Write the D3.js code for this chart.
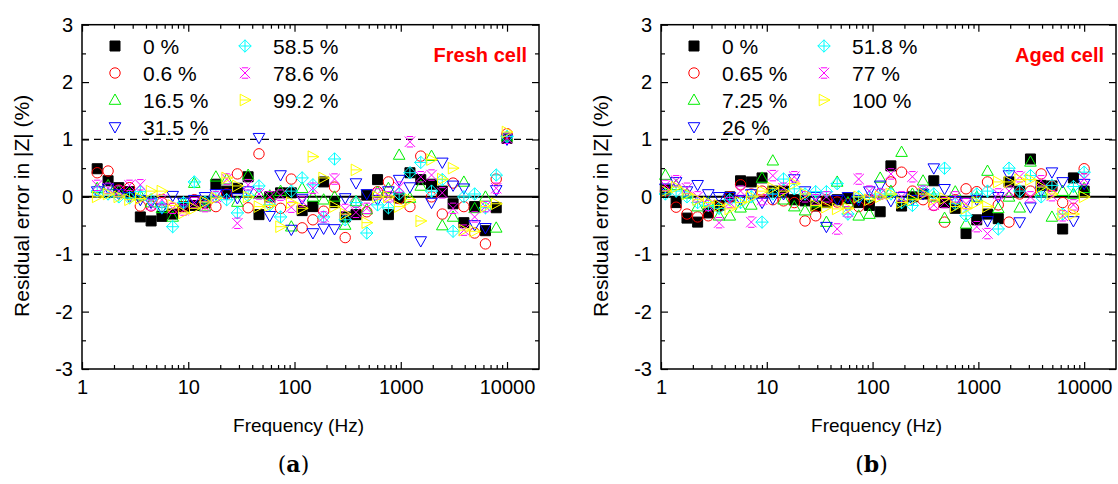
<!DOCTYPE html>
<html>
<head>
<meta charset="utf-8">
<script src="https://cdn.jsdelivr.net/npm/d3@7"></script>
<style>
  body { margin: 0; background: #fff; }
  svg { display: block; font-family: "Liberation Sans", Arial, sans-serif; }
</style>
</head>
<body>
<div id="chart"></div>
<script>
// Residual error of the |Z| fit vs frequency, fresh cell (a) and aged cell (b)

// Frequencies (Hz) of the measured points
const freqFresh = [1.39, 1.76, 2.22, 2.80, 3.54, 4.47, 5.65, 7.14, 9.02, 11.4, 14.4, 18.2, 23.0, 29.0,
  36.6, 46.3, 58.5, 73.9, 93.3, 118, 149, 188, 238, 300, 379, 479, 605, 765, 966, 1220, 1542, 1948,
  2460, 3108, 3926, 4960, 6266, 7916, 10000];
const freqAged = [1.10, 1.39, 1.76, 2.22, 2.80, 3.54, 4.47, 5.65, 7.14, 9.02, 11.4, 14.4, 18.2, 23.0,
  29.0, 36.6, 46.3, 58.5, 73.9, 93.3, 118, 149, 188, 238, 300, 379, 479, 605, 765, 966, 1220, 1542,
  1948, 2460, 3108, 3926, 4960, 6266, 7916, 10000];

// Legend labels (state of charge)
const labelsFresh = ['0 %', '0.6 %', '16.5 %', '31.5 %', '58.5 %', '78.6 %', '99.2 %'];
const labelsAged = ['0 %', '0.65 %', '7.25 %', '26 %', '51.8 %', '77 %', '100 %'];

// Fresh cell residuals (%)
const fresh0 = [0.49, 0.28, 0.16, 0.09, -0.35, -0.42, -0.34, -0.3, -0.17, -0.15, -0.1, 0.22, 0.1, 0.15,
  0.35, -0.31, 0.0, 0.07, 0.07, -0.24, -0.17, 0.26, -0.1, -0.35, -0.31, 0.03, 0.3, -0.31, -0.02, 0.42,
  0.3, 0.22, 0.1, -0.12, -0.45, -0.17, -0.59, -0.19, 1.02];
const fresh06 = [0.42, 0.45, 0.12, 0.16, -0.16, -0.16, -0.1, -0.2, -0.17, -0.05, -0.12, -0.17, 0.05, 0.4,
  -0.19, 0.75, -0.1, -0.2, 0.31, -0.54, -0.4, -0.25, 0.17, -0.71, -0.1, -0.26, 0.09, 0.26, -0.03, -0.17,
  0.71, 0.0, -0.3, 0.24, -0.17, -0.63, -0.82, 0.31, 1.1];
const fresh165 = [0.15, 0.2, 0.1, 0.05, 0.02, -0.1, -0.2, -0.35, -0.1, 0.24, -0.17, 0.35, 0.3, -0.09,
  0.38, 0.05, 0.02, 0.1, -0.52, 0.15, 0.0, -0.05, 0.0, -0.49, -0.08, -0.22, 0.08, 0.15, 0.73, -0.02,
  0.19, 0.71, -0.5, -0.35, 0.26, -0.2, 0.0, -0.54, 1.05];
const fresh315 = [0.1, 0.15, 0.05, 0.0, -0.05, -0.1, -0.2, 0.02, -0.1, -0.05, 0.0, 0.05, 0.05, -0.02,
  0.1, 1.03, -0.33, 0.38, -0.57, -0.03, -0.63, -0.55, -0.56, -0.02, 0.24, 0.05, -0.05, 0.1, 0.3, 0.17,
  -0.77, -0.1, 0.6, 0.2, 0.15, -0.49, -0.54, 0.12, 1.0];
const fresh585 = [0.1, 0.05, 0.0, -0.02, 0.09, -0.05, -0.18, -0.52, -0.1, 0.26, -0.09, 0.0, -0.05, -0.28,
  0.02, 0.19, -0.14, -0.35, 0.1, 0.33, 0.21, -0.35, 0.66, -0.4, -0.1, -0.63, -0.14, -0.19, 0.05, 0.42,
  0.6, 0.1, 0.3, -0.6, 0.0, 0.05, -0.19, 0.38, 1.05];
const fresh786 = [0.2, 0.15, 0.1, 0.2, 0.21, -0.14, -0.05, -0.2, -0.23, -0.1, -0.17, 0.0, 0.31, -0.46,
  0.21, 0.05, 0.0, 0.03, -0.18, -0.08, 0.15, -0.35, 0.31, -0.22, -0.27, -0.2, 0.05, 0.0, 0.17, 0.96,
  0.35, 0.38, 0.07, -0.2, -0.58, -0.35, -0.17, 0.15, 1.02];
const fresh992 = [0.0, 0.05, 0.0, -0.05, -0.03, 0.1, 0.1, -0.15, -0.28, -0.2, -0.09, -0.02, 0.33, 0.19,
  0.0, -0.17, -0.15, -0.52, -0.1, -0.2, 0.7, 0.33, -0.17, -0.3, 0.47, -0.45, 0.0, 0.0, -0.17, -0.05,
  -0.42, 0.65, 0.31, 0.5, -0.58, -0.6, -0.17, -0.12, 1.13];

// Aged cell residuals (%)
const aged0 = [0.12, -0.1, -0.37, -0.44, -0.28, -0.15, 0.0, 0.28, 0.26, 0.33, 0.1, 0.1, -0.05, -0.07,
  -0.16, -0.1, -0.05, -0.03, -0.1, -0.15, -0.26, 0.54, -0.16, 0.0, 0.05, 0.28, -0.1, -0.2, -0.64, -0.4,
  -0.3, -0.38, 0.26, 0.1, 0.66, 0.2, 0.19, -0.56, 0.33, 0.1];
const aged065 = [0.1, -0.18, -0.3, -0.35, -0.33, -0.17, 0.0, 0.21, 0.05, 0.1, -0.05, -0.07, -0.1, -0.42,
  -0.33, -0.05, -0.09, -0.12, -0.17, -0.05, 0.05, 0.26, 0.43, 0.1, -0.05, -0.15, -0.44, -0.05, 0.14, 0.09,
  0.26, -0.14, -0.44, 0.05, 0.1, 0.4, 0.18, -0.1, -0.2, 0.49];
const aged725 = [0.38, 0.2, 0.05, -0.17, -0.1, -0.33, -0.33, -0.19, -0.14, 0.33, 0.63, -0.05, -0.17, -0.24,
  -0.1, -0.44, 0.26, -0.1, -0.33, -0.3, 0.33, 0.1, 0.78, 0.05, 0.28, 0.0, -0.37, 0.09, -0.47, 0.0,
  0.45, -0.2, 0.0, -0.19, 0.61, 0.1, -0.35, 0.1, 0.05, 0.15];
const aged26 = [0.15, 0.26, 0.1, 0.21, 0.05, 0.0, 0.0, -0.05, 0.05, -0.1, -0.03, 0.05, 0.31, 0.1,
  0.0, -0.52, -0.05, 0.0, -0.05, 0.1, 0.2, -0.07, 0.0, -0.05, 0.05, 0.5, 0.14, -0.07, -0.1, -0.05,
  -0.42, 0.0, 0.38, -0.44, -0.18, 0.1, 0.43, 0.26, -0.42, 0.23];
const aged518 = [0.05, 0.1, 0.0, -0.1, -0.15, -0.2, -0.05, -0.1, 0.0, -0.44, 0.05, 0.31, 0.14, 0.05,
  0.09, 0.09, 0.23, -0.3, 0.0, 0.0, 0.05, 0.05, -0.1, -0.15, 0.1, 0.05, 0.5, -0.12, -0.33, 0.05,
  0.1, -0.56, 0.5, 0.1, 0.37, 0.0, 0.2, -0.3, 0.18, 0.43];
const aged77 = [0.2, 0.28, 0.15, 0.0, -0.15, -0.45, -0.1, 0.1, -0.44, -0.05, 0.37, 0.15, 0.35, 0.0,
  -0.05, 0.0, -0.56, -0.26, 0.31, 0.1, 0.05, 0.4, 0.0, 0.35, 0.1, -0.14, -0.1, 0.0, -0.12, -0.52,
  -0.64, 0.05, 0.1, 0.35, 0.0, 0.28, 0.02, -0.33, -0.14, 0.31];
const aged100 = [0.1, 0.17, 0.05, -0.05, -0.1, -0.15, -0.21, -0.1, 0.0, 0.1, 0.15, 0.1, 0.23, 0.05,
  -0.15, -0.18, -0.21, -0.2, 0.0, -0.05, 0.0, 0.05, -0.1, -0.05, 0.05, -0.05, -0.03, -0.17, -0.2, -0.1,
  -0.17, 0.26, 0.26, 0.3, 0.3, 0.17, 0.05, -0.3, -0.3, 0.0];

// Axis ticks
const xMajorTicks = [1, 10, 100, 1000, 10000];
const yMajorTicks = [-3, -2, -1, 0, 1, 2, 3];
const yMinorTicks = [-2.5, -1.5, -0.5, 0.5, 1.5, 2.5];

// Marker style for each series, in plotting order
const symbolKinds = ['square', 'circle', 'triangleUp', 'triangleDown', 'diamondPlus', 'xBar', 'triangleRight'];
const symbolColors = ['#000000', '#ff0000', '#00ee00', '#0000ff', '#00ffff', '#ff00ff', '#ffff00'];

// Build a path string for one marker centred on (0,0)
function symbolPath(kind) {
  switch (kind) {
    case 'square': return 'M-5,-5H5V5H-5Z';
    case 'circle': return 'M-5.2,0A5.2,5.2 0 1,0 5.2,0A5.2,5.2 0 1,0 -5.2,0Z';
    case 'triangleUp': return 'M0,-6L5.8,4.3L-5.8,4.3Z';
    case 'triangleDown': return 'M0,6L5.8,-4.3L-5.8,-4.3Z';
    case 'diamondPlus': return 'M0,-6.2L6.2,0L0,6.2L-6.2,0Z M0,-6.2V6.2 M-6.2,0H6.2';
    case 'xBar': return 'M-5.2,-5.2L5.2,5.2M5.2,-5.2L-5.2,5.2M-3.2,-5.2H3.2M-3.2,5.2H3.2';
    case 'triangleRight': return 'M-4.8,-5.8L6,0L-4.8,5.8Z M-4.8,0H6';
  }
}

function drawMarker(sel, i) {
  sel.append('path')
    .attr('d', symbolPath(symbolKinds[i]))
    .attr('fill', symbolKinds[i] === 'square' ? symbolColors[i] : 'none')
    .attr('stroke', symbolColors[i])
    .attr('stroke-width', 1);
}

const width = 1118;
const height = 484;

const svg = d3.select('#chart').append('svg')
  .attr('width', width)
  .attr('height', height);

// Draw one panel of the figure
function drawPanel(p) {
  const x = d3.scaleLog().domain([1, 20000]).range([p.left, p.right]);
  const y = d3.scaleLinear().domain([-3, 3]).range([p.bottom, p.top]);
  const g = svg.append('g');

  // reference lines at 0 and +-1 %
  g.append('line')
    .attr('x1', p.left).attr('x2', p.right)
    .attr('y1', y(0)).attr('y2', y(0))
    .attr('stroke', '#000').attr('stroke-width', 2);
  [1, -1].forEach(v => {
    g.append('line')
      .attr('x1', p.left).attr('x2', p.right)
      .attr('y1', y(v)).attr('y2', y(v))
      .attr('stroke', '#000').attr('stroke-width', 1.3)
      .attr('stroke-dasharray', '7,5');
  });

  // data points
  p.series.forEach((vals, i) => {
    g.append('g').selectAll('g')
      .data(vals.map((v, k) => ({ f: p.freq[k], v: v })))
      .enter().append('g')
      .attr('transform', d => `translate(${x(d.f)},${y(d.v)})`)
      .each(function () { drawMarker(d3.select(this), i); });
  });

  // axes with inward ticks
  const xMinor = [];
  xMajorTicks.slice(0, 4).forEach(d => { for (let m = 2; m <= 9; m++) xMinor.push(d * m); });

  const addAxis = (axis, tx, ty, labels) => {
    const a = g.append('g').attr('transform', `translate(${tx},${ty})`).call(axis);
    a.select('.domain').remove();
    a.selectAll('line').attr('stroke', '#000').attr('stroke-width', 1.2);
    a.selectAll('text').attr('font-size', 20).attr('fill', '#000')
      .style('font-family', '"Liberation Sans", Arial, sans-serif');
    if (!labels) a.selectAll('text').remove();
    return a;
  };

  addAxis(d3.axisBottom(x).tickValues(xMajorTicks).tickSize(-7).tickPadding(11).tickFormat(d3.format('d')), 0, p.bottom, true);
  addAxis(d3.axisBottom(x).tickValues(xMinor).tickSize(-4), 0, p.bottom, false);
  addAxis(d3.axisTop(x).tickValues(xMajorTicks).tickSize(-7), 0, p.top, false);
  addAxis(d3.axisTop(x).tickValues(xMinor).tickSize(-4), 0, p.top, false);
  addAxis(d3.axisLeft(y).tickValues(yMajorTicks).tickSize(-7).tickPadding(9).tickFormat(d => String(d)), p.left, 0, true);
  addAxis(d3.axisLeft(y).tickValues(yMinorTicks).tickSize(-4), p.left, 0, false);
  addAxis(d3.axisRight(y).tickValues(yMajorTicks).tickSize(-7), p.right, 0, false);
  addAxis(d3.axisRight(y).tickValues(yMinorTicks).tickSize(-4), p.right, 0, false);

  // frame
  g.append('rect')
    .attr('x', p.left).attr('y', p.top)
    .attr('width', p.right - p.left).attr('height', p.bottom - p.top)
    .attr('fill', 'none').attr('stroke', '#000').attr('stroke-width', 1.5);

  // legend, two columns
  const legend = g.selectAll('.legend')
    .data(p.labels)
    .enter().append('g')
    .attr('class', 'legend')
    .attr('transform', (d, i) => `translate(${p.left + (i < 4 ? 33 : 163)},${46 + 27 * (i < 4 ? i : i - 4)})`);
  legend.each(function (d, i) { drawMarker(d3.select(this), i); });
  legend.append('text')
    .attr('x', 28)
    .attr('y', 7.5)
    .attr('font-size', 21)
    .attr('fill', '#000')
    .text(d => d);

  // cell label
  g.append('text')
    .attr('x', p.right - 12)
    .attr('y', 62)
    .attr('text-anchor', 'end')
    .attr('font-size', 20)
    .attr('font-weight', 'bold')
    .attr('fill', '#ff0000')
    .text(p.tag);

  // axis titles
  g.append('text')
    .attr('x', (p.left + p.right) / 2 - 12)
    .attr('y', 432)
    .attr('text-anchor', 'middle')
    .attr('font-size', 19)
    .attr('fill', '#000')
    .text('Frequency (Hz)');

  g.append('text')
    .attr('transform', `translate(${p.left - 53},${y(0) + 9}) rotate(-90)`)
    .attr('text-anchor', 'middle')
    .attr('font-size', 21)
    .attr('fill', '#000')
    .text('Residual error in |Z| (%)');

  // sub-figure caption
  const cap = g.append('text')
    .attr('x', (p.left + p.right) / 2 - 17)
    .attr('y', 472)
    .attr('text-anchor', 'middle')
    .attr('font-size', 22)
    .attr('fill', '#000')
    .style('font-family', '"DejaVu Serif", "Liberation Serif", serif');
  cap.append('tspan').text('(');
  cap.append('tspan').attr('font-weight', 'bold').text(p.caption);
  cap.append('tspan').text(')');
}

drawPanel({
  left: 82, right: 539, top: 24.7, bottom: 369,
  freq: freqFresh,
  series: [fresh0, fresh06, fresh165, fresh315, fresh585, fresh786, fresh992],
  labels: labelsFresh,
  tag: 'Fresh cell',
  caption: 'a'
});

drawPanel({
  left: 661, right: 1116, top: 24.7, bottom: 369,
  freq: freqAged,
  series: [aged0, aged065, aged725, aged26, aged518, aged77, aged100],
  labels: labelsAged,
  tag: 'Aged cell',
  caption: 'b'
});
</script>
</body>
</html>
